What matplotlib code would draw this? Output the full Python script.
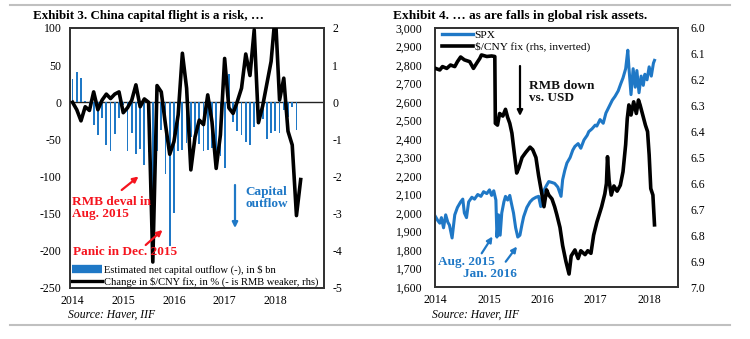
import numpy as np
import matplotlib
matplotlib.use('Agg')
import matplotlib.pyplot as plt
from matplotlib.lines import Line2D

plt.rcParams['font.family'] = ['Liberation Serif', 'DejaVu Serif']
plt.rcParams['axes.unicode_minus'] = False

BLUE = '#1f78c6'
RED = '#f5141e'
H = 339  # figure height in px, used to place annotations from the top

# Exhibit 3: monthly, Jan 2014 onwards
outflow_bn = [31, 41, 33, 2, -9, -31, -44, -21, -58, -66, -43, -21,
              -4, -65, -41, -70, -63, -84, -67, -125, -66, -37, -96, -194,
              -149, -66, -64, -55, -47, -47, -56, -65, -64, -62, -70, -72,
              -88, 38, -27, -39, -44, -53, -58, -33, -26, -22, -50, -42,
              -39, -42, -10, -20, -6, -37]
cny_fix_chg = [0.0, -0.2, -0.5, -0.12, -0.22, 0.28, -0.2, 0.06, 0.22, 0.1, 0.22, 0.28,
               -0.28, -0.15, 0.05, 0.47, -0.12, 0.09, 0.0, -4.3, 0.45, 0.28, -0.6, -1.4,
               -1.06, -0.34, 1.32, 0.38, -1.82, -0.93, -0.48, -0.6, 0.2, -0.52, -1.78, -0.88,
               1.18, -0.15, -0.3, 0.02, 0.38, 1.3, 0.72, 1.95, -0.55, -0.1, 0.5, 1.1,
               2.4, 0.06, 0.65, -0.78, -1.15, -3.05, -2.08]
year_ticks = [2014, 2015, 2016, 2017, 2018]

# Exhibit 4: SPX and $/CNY fix (decimal years as on the chart's axis)
spx_t = [2013.99, 2014.04, 2014.08, 2014.11, 2014.15, 2014.19, 2014.23, 2014.26, 2014.31, 2014.36,
         2014.41, 2014.47, 2014.51, 2014.54, 2014.58, 2014.62, 2014.68, 2014.73, 2014.79, 2014.85,
         2014.90, 2014.96, 2015.01, 2015.05, 2015.09, 2015.13, 2015.15, 2015.18, 2015.21, 2015.24,
         2015.28, 2015.31, 2015.35, 2015.39, 2015.43, 2015.46, 2015.50, 2015.54, 2015.58, 2015.62,
         2015.65, 2015.71, 2015.77, 2015.82, 2015.88, 2015.93, 2015.97, 2016.01, 2016.07, 2016.12,
         2016.18, 2016.23, 2016.29, 2016.35, 2016.38, 2016.42, 2016.46, 2016.52, 2016.57, 2016.61,
         2016.67, 2016.72, 2016.78, 2016.84, 2016.87, 2016.93, 2016.99, 2017.02, 2017.08, 2017.14,
         2017.19, 2017.25, 2017.31, 2017.36, 2017.42, 2017.47, 2017.51, 2017.56, 2017.60, 2017.62,
         2017.66, 2017.70, 2017.74, 2017.77, 2017.81, 2017.85, 2017.89, 2017.92, 2017.96, 2018.00,
         2018.04, 2018.08, 2018.10]
spx_val = [1985, 1960, 1945, 1975, 1920, 1990, 1950, 1935, 1865, 1990,
           2030, 2060, 2075, 2000, 1975, 2060, 2085, 2075, 2100, 2090,
           2115, 2105, 2125, 2095, 2120, 2070, 1870, 1990, 1880, 2000,
           2060, 2090, 2070, 2095, 2040, 2000, 1920, 1870, 1880, 1940,
           1980, 2030, 2060, 2075, 2085, 2090, 2035, 2110, 2145, 2170,
           2165, 2160, 2140, 2090, 2180, 2230, 2270, 2300, 2340, 2360,
           2375, 2350, 2395, 2420, 2440, 2455, 2475, 2470, 2505, 2485,
           2540, 2575, 2610, 2630, 2660, 2700, 2730, 2780, 2880, 2790,
           2640, 2780, 2680, 2770, 2650, 2740, 2690, 2750, 2720, 2790,
           2740, 2810, 2825]
cny_t = [2014.00, 2014.08, 2014.13, 2014.21, 2014.28, 2014.36, 2014.41, 2014.47, 2014.54, 2014.64,
         2014.71, 2014.77, 2014.83, 2014.86, 2014.96, 2015.05, 2015.11, 2015.12, 2015.16, 2015.20,
         2015.26, 2015.31, 2015.35, 2015.39, 2015.43, 2015.46, 2015.52, 2015.56, 2015.62, 2015.69,
         2015.77, 2015.82, 2015.88, 2015.93, 2015.99, 2016.03, 2016.08, 2016.12, 2016.18, 2016.23,
         2016.27, 2016.33, 2016.38, 2016.44, 2016.50, 2016.54, 2016.61, 2016.67, 2016.72, 2016.80,
         2016.85, 2016.91, 2016.96, 2017.02, 2017.11, 2017.17, 2017.20, 2017.22, 2017.25, 2017.29,
         2017.34, 2017.40, 2017.46, 2017.51, 2017.56, 2017.59, 2017.62, 2017.66, 2017.71, 2017.76,
         2017.80, 2017.83, 2017.88, 2017.93, 2017.97, 2018.00, 2018.03, 2018.07, 2018.10]
cny_val = [6.156, 6.162, 6.149, 6.156, 6.143, 6.149, 6.13, 6.112, 6.123, 6.13,
           6.156, 6.136, 6.117, 6.104, 6.11, 6.108, 6.11, 6.368, 6.375, 6.33,
           6.34, 6.314, 6.345, 6.368, 6.406, 6.458, 6.56, 6.54, 6.50, 6.48,
           6.46, 6.47, 6.50, 6.57, 6.64, 6.69, 6.625, 6.645, 6.66, 6.69,
           6.72, 6.77, 6.84, 6.90, 6.95, 6.88, 6.857, 6.89, 6.86, 6.875,
           6.86, 6.87, 6.80, 6.75, 6.69, 6.64, 6.60, 6.497, 6.59, 6.645,
           6.61, 6.63, 6.607, 6.555, 6.45, 6.35, 6.297, 6.336, 6.285, 6.33,
           6.278, 6.297, 6.336, 6.375, 6.40, 6.49, 6.62, 6.645, 6.76]

fig = plt.figure(figsize=(7.5, 3.39), dpi=100)

def P(x, y):
    # pixel position measured from the top-left corner
    return (x, H - y)

def style_axes(ax):
    for s in ax.spines.values():
        s.set_color('#333333')
        s.set_linewidth(1.3)
    ax.tick_params(length=0, labelsize=8.5, pad=6)

# ---------------- Exhibit 3 ----------------
ax1 = fig.add_axes([70 / 750, 1 - 288 / H, 254 / 750, 260 / H])
months = 2014 + np.arange(len(outflow_bn)) / 12
ax1.bar(months, outflow_bn, width=0.035, color=BLUE, zorder=2)
ax1.axhline(0, color='#222222', lw=1.0, zorder=1)
ax1.set_ylim(-250, 100)
ax1.set_yticks(np.arange(-250, 101, 50))
ax1.set_xlim(2013.95, 2018.96)
ax1.set_xticks(year_ticks)
style_axes(ax1)
ax1.tick_params(axis='x', pad=5)

ax1b = ax1.twinx()
line_months = 2014 + np.arange(len(cny_fix_chg)) / 12
ax1b.plot(line_months, cny_fix_chg, color='black', lw=2.6, zorder=3)
ax1b.set_ylim(-5, 2)
ax1b.set_yticks(np.arange(-5, 3, 1))
style_axes(ax1b)

h_bar = Line2D([], [], color=BLUE, lw=6, solid_capstyle='butt')
h_line = Line2D([], [], color='black', lw=2.4)
ax1b.legend([h_bar, h_line],
            ['Estimated net capital outflow (-), in $ bn',
             'Change in $/CNY fix, in % (- is RMB weaker, rhs)'],
            loc='lower left', bbox_to_anchor=(0.0, -0.005), frameon=False,
            fontsize=7.6, handlelength=2.8, handletextpad=0.2,
            labelspacing=0.2, borderpad=0.1, borderaxespad=0.1)

# ---------------- Exhibit 4 ----------------
ax2 = fig.add_axes([435 / 750, 1 - 287 / H, 243 / 750, 259 / H])
ax2.plot(spx_t, spx_val, color=BLUE, lw=2.2, zorder=2)
ax2.set_ylim(1600, 3000)
ax2.set_yticks(np.arange(1600, 3001, 100))
ax2.set_yticklabels(['{:,}'.format(v) for v in range(1600, 3001, 100)])
ax2.set_xlim(2013.99, 2018.54)
ax2.set_xticks(year_ticks)
style_axes(ax2)
ax2.tick_params(axis='x', pad=5)
ax2.tick_params(axis='y', pad=9)

ax2b = ax2.twinx()
ax2b.plot(cny_t, cny_val, color='black', lw=2.6, zorder=3)
ax2b.set_ylim(7.0, 6.0)
ax2b.set_yticks(np.round(np.arange(6.0, 7.01, 0.1), 1))
ax2b.set_yticklabels(['{:.1f}'.format(v) for v in np.arange(6.0, 7.01, 0.1)])
style_axes(ax2b)
ax2b.tick_params(axis='y', pad=9)

ax2b.legend([Line2D([], [], color=BLUE, lw=2.4), Line2D([], [], color='black', lw=2.6)],
            ['SPX', '$/CNY fix (rhs, inverted)'],
            loc='upper left', bbox_to_anchor=(0.02, 1.0), frameon=False,
            fontsize=8.2, handlelength=2.7, handletextpad=0.15,
            labelspacing=0.15, borderpad=0.1, borderaxespad=0.1)

# ---------------- titles, notes, arrows ----------------
kw = dict(xycoords='figure pixels', va='center', ha='left')
ax1.annotate('Exhibit 3. China capital flight is a risk, \u2026', P(33, 16),
             fontsize=9.4, fontweight='bold', **kw)
ax2.annotate('Exhibit 4. \u2026 as are falls in global risk assets.', P(393, 16),
             fontsize=9.6, fontweight='bold', **kw)
ax1.annotate('Source: Haver, IIF', P(68, 315), fontsize=8.4, style='italic', **kw)
ax2.annotate('Source: Haver, IIF', P(432, 315), fontsize=8.4, style='italic', **kw)

ax1b.annotate('RMB deval in\nAug. 2015', P(72, 208), fontsize=9.5, fontweight='bold',
              color=RED, linespacing=1.0, **kw)
ax1b.annotate('Panic in Dec. 2015', P(73, 252), fontsize=9.5, fontweight='bold',
              color=RED, **kw)
ax1b.annotate('Capital\noutflow', P(245, 198), fontsize=9.5, fontweight='bold',
              color=BLUE, linespacing=1.0, **kw)
ax2b.annotate('RMB down\nvs. USD', P(529, 92), fontsize=9.5, fontweight='bold',
              color='#111111', linespacing=1.0, **kw)
ax2b.annotate('Aug. 2015', P(438, 262), fontsize=9.5, fontweight='bold', color=BLUE, **kw)
ax2b.annotate('Jan. 2016', P(463, 274), fontsize=9.5, fontweight='bold', color=BLUE, **kw)

arrows = [((121.7, 190), (138.5, 176.5), RED),
          ((145.7, 245), (162.5, 230), RED),
          ((235, 185), (235, 228), BLUE),
          ((520, 66), (520, 116), 'black'),
          ((481.7, 253.3), (492.5, 236.5), BLUE),
          ((505.7, 261.7), (517, 246.5), BLUE)]
for (x0, y0), (x1, y1), c in arrows:
    ax2b.annotate('', xy=P(x1, y1), xytext=P(x0, y0), xycoords='figure pixels',
                  textcoords='figure pixels',
                  arrowprops=dict(arrowstyle='-|>', color=c, lw=1.6,
                                  mutation_scale=8, shrinkA=0, shrinkB=0))

# light grey separators above and below the exhibits
for yy in (5, 325):
    fig.add_artist(Line2D([10 / 750, 730 / 750], [1 - yy / H, 1 - yy / H],
                          transform=fig.transFigure, color='#c0c0c0', lw=1.5))

fig.savefig('out.png', dpi=100)
